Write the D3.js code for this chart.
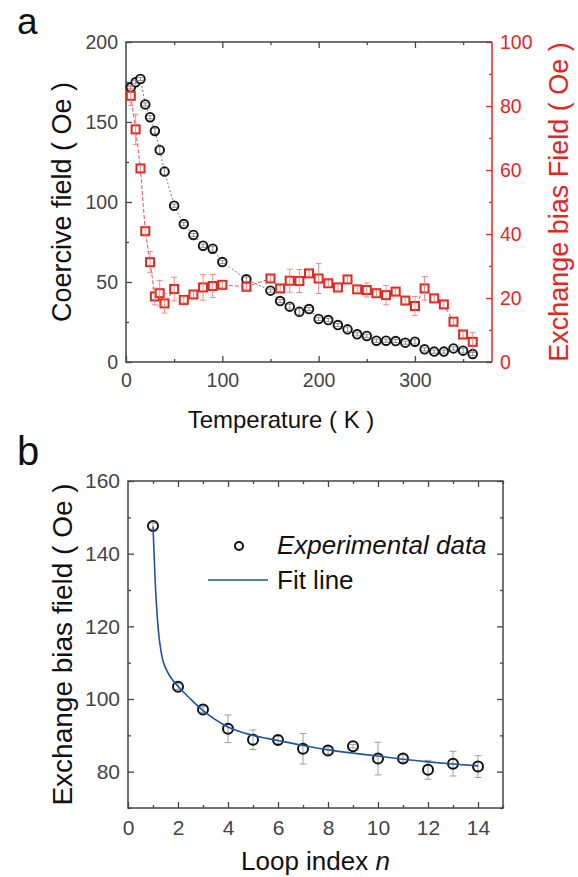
<!DOCTYPE html>
<html>
<head>
<meta charset="utf-8">
<script src="https://cdn.jsdelivr.net/npm/d3@7"></script>
<style>
body { margin: 0; background: #fff; }
text { font-family: "Liberation Sans", Arial, sans-serif; }
</style>
</head>
<body>
<svg id="fig" width="578" height="877"></svg>
<script>
// panel a data
var temps = [5, 10, 15, 20, 25, 30, 35, 40, 50, 60, 70, 80, 90, 100, 125,
  150, 160, 170, 180, 190, 200, 210, 220, 230, 240, 250, 260, 270, 280, 290,
  300, 310, 320, 330, 340, 350, 360];
var coercive = [171.7, 174.8, 176.9, 161, 153, 144.4, 132.5, 119, 97.7, 86.2, 79.4, 72.7, 70.8, 62.5, 51.7,
  44.6, 38.1, 34.6, 31.4, 33.1, 26.9, 26.2, 23.1, 20.4, 17.3, 16.3, 13.3, 13.3, 13.1, 12.1,
  12.7, 7.9, 6.5, 6.5, 8.5, 7.1, 5];
var coerciveErr = [1, 1, 1, 1, 1, 1.5, 2, 2, 1, 1, 1, 1, 1.5, 1, 1.5,
  1, 1, 1.5, 2, 1, 1, 1, 1, 1.5, 1, 1, 1, 1, 1, 1,
  1.5, 1, 1, 1, 1, 1.5, 1];
var exchange = [83.2, 72.7, 60.5, 40.9, 31.2, 20.5, 21.5, 18.3, 22.8, 19.4, 21.1, 23.3, 23.75, 24.1, 23.5,
  26.1, 23, 25.4, 25.3, 27.7, 26.1, 24.6, 23.3, 25.8, 22.7, 22.5, 21.5, 20.9, 22, 19.2,
  17.5, 23, 19.9, 18, 12.6, 8.6, 6.3];
var exchangeErr = [3, 4.7, 1, 1.5, 3.3, 2.6, 4, 3, 3.7, 1, 1, 4, 3.6, 1, 1,
  1, 1, 3.6, 3.6, 1, 4.7, 1, 1.5, 1, 1, 2.2, 1, 3, 1, 1,
  3, 3.7, 1, 1, 1, 1, 3];

// panel b data
var loops = [1, 2, 3, 4, 5, 6, 7, 8, 9, 10, 11, 12, 13, 14];
var bias = [147.6, 103.4, 97.1, 91.8, 88.8, 88.7, 86.3, 85.8, 87.0, 83.6, 83.6, 80.5, 82.2, 81.4];
var biasErr = [0.8, 0.8, 0.8, 3.8, 2.7, 1, 4.2, 1, 0.5, 4.5, 1, 2.6, 3.4, 3];
// fit curve
var fitN = [1, 1.09, 1.2, 1.33, 1.6, 1.8, 2, 2.5, 2.9, 4, 5, 6, 7, 8, 9, 10, 11, 12, 13, 14];
var fitH = [147.5, 132, 120, 112.7, 107.2, 105.1, 103.5, 100, 97.4, 92.3, 90, 88.6, 87.2, 86, 85.1, 84.3, 83.4, 82.7, 82.1, 81.6];

var axisColor = "#444";
var red = "#e3261f";
var blue = "#2152a6";

var svg = d3.select("#fig");

function styleAxis(g, color, fs) {
  g.select(".domain").remove();
  g.selectAll("line").attr("stroke", color).attr("stroke-width", 1.3);
  g.selectAll("text").attr("fill", color).style("font-size", fs + "px")
    .style("font-family", "'Liberation Sans', Arial, sans-serif");
}

function addAxis(axisFn, scale, major, minor, pos, color, labels, pad, fs) {
  var gMin = svg.append("g").attr("transform", pos)
    .call(axisFn(scale).tickValues(minor).tickSize(-3).tickFormat(""));
  styleAxis(gMin, color, fs);
  var ax = axisFn(scale).tickValues(major).tickSize(-6).tickPadding(pad || 8);
  if (!labels) ax.tickFormat("");
  var g = svg.append("g").attr("transform", pos).call(ax);
  styleAxis(g, color, fs);
}

function errBars(g, data, xf, yv, ev, sc, color, cap) {
  var eb = g.selectAll("g").data(data).enter().append("g");
  eb.append("line")
    .attr("x1", xf).attr("x2", xf)
    .attr("y1", function (d) { return sc(yv(d) - ev(d)); })
    .attr("y2", function (d) { return sc(yv(d) + ev(d)); });
  [1, -1].forEach(function (s) {
    eb.append("line")
      .attr("x1", function (d) { return xf(d) - cap; })
      .attr("x2", function (d) { return xf(d) + cap; })
      .attr("y1", function (d) { return sc(yv(d) + s * ev(d)); })
      .attr("y2", function (d) { return sc(yv(d) + s * ev(d)); });
  });
  eb.selectAll("line").attr("stroke", color).attr("stroke-width", 0.8);
}

// ---------- panel a ----------
var a = { l: 126, r: 492, t: 42, b: 362 };
var xa = d3.scaleLinear().domain([0, 380]).range([a.l, a.r]);
var yaL = d3.scaleLinear().domain([0, 200]).range([a.b, a.t]);
var yaR = d3.scaleLinear().domain([0, 100]).range([a.b, a.t]);

addAxis(d3.axisBottom, xa, d3.range(0, 381, 100), d3.range(50, 381, 100), "translate(0," + a.b + ")", axisColor, true, 11, 19.5);
addAxis(d3.axisTop, xa, d3.range(100, 381, 100), d3.range(50, 381, 100), "translate(0," + a.t + ")", axisColor, false, 8, 19.5);
addAxis(d3.axisLeft, yaL, d3.range(0, 201, 50), d3.range(25, 200, 50), "translate(" + a.l + ",0)", axisColor, true, 8, 19.5);
addAxis(d3.axisRight, yaR, d3.range(0, 101, 20), d3.range(10, 100, 20), "translate(" + a.r + ",0)", red, true, 8, 19.5);

svg.append("path").attr("d", "M" + a.r + "," + a.t + "H" + a.l + "V" + a.b + "H" + a.r)
  .attr("fill", "none").attr("stroke", axisColor).attr("stroke-width", 1.5);
svg.append("line").attr("x1", a.r).attr("x2", a.r).attr("y1", a.t).attr("y2", a.b)
  .attr("stroke", red).attr("stroke-width", 1.5);

var ptsA = temps.map(function (t, i) {
  return { t: t, c: coercive[i], ce: coerciveErr[i], e: exchange[i], ee: exchangeErr[i] };
});

svg.append("path").datum(ptsA)
  .attr("d", d3.line().x(function (d) { return xa(d.t); }).y(function (d) { return yaL(d.c); }))
  .attr("fill", "none").attr("stroke", "#555").attr("stroke-width", 0.8).attr("stroke-dasharray", "2,2");
svg.append("path").datum(ptsA)
  .attr("d", d3.line().x(function (d) { return xa(d.t); }).y(function (d) { return yaR(d.e); }))
  .attr("fill", "none").attr("stroke", red).attr("stroke-width", 0.8).attr("stroke-dasharray", "4,2");

svg.append("g").selectAll("circle").data(ptsA).enter().append("circle")
  .attr("cx", function (d) { return xa(d.t); })
  .attr("cy", function (d) { return yaL(d.c); })
  .attr("r", 4.3).attr("fill", "#fff").attr("stroke", "#111").attr("stroke-width", 1.9);

errBars(svg.append("g"), ptsA, function (d) { return xa(d.t); }, function (d) { return d.c; },
  function (d) { return d.ce; }, yaL, "#777", 3);

svg.append("g").selectAll("rect").data(ptsA).enter().append("rect")
  .attr("x", function (d) { return xa(d.t) - 4; })
  .attr("y", function (d) { return yaR(d.e) - 4; })
  .attr("width", 8).attr("height", 8)
  .attr("fill", "#fff").attr("stroke", red).attr("stroke-width", 2);

errBars(svg.append("g"), ptsA, function (d) { return xa(d.t); }, function (d) { return d.e; },
  function (d) { return d.ee; }, yaR, "#e9736c", 3);

svg.append("text").attr("x", 17).attr("y", 34).style("font-size", "37px").attr("fill", "#111").text("a");
svg.append("text").attr("transform", "translate(71," + (a.t + a.b) / 2 + ") rotate(-90)")
  .attr("text-anchor", "middle").style("font-size", "27px").attr("fill", "#111")
  .text("Coercive field ( Oe )");
svg.append("text").attr("transform", "translate(568," + (a.t + a.b) / 2 + ") rotate(-90)")
  .attr("text-anchor", "middle").style("font-size", "27px").attr("fill", red)
  .text("Exchange bias Field ( Oe )");
svg.append("text").attr("x", 281).attr("y", 428).attr("text-anchor", "middle")
  .style("font-size", "24px").attr("fill", "#111").text("Temperature ( K )");

// ---------- panel b ----------
var b = { l: 128, r: 503, t: 481, b: 808 };
var xb = d3.scaleLinear().domain([0, 15]).range([b.l, b.r]);
var yb = d3.scaleLinear().domain([70, 160]).range([b.b, b.t]);

addAxis(d3.axisBottom, xb, d3.range(0, 15, 2), d3.range(1, 16, 2), "translate(0," + b.b + ")", axisColor, true, 12, 21);
addAxis(d3.axisTop, xb, d3.range(2, 15, 2), d3.range(1, 16, 2), "translate(0," + b.t + ")", axisColor, false, 8, 21);
addAxis(d3.axisLeft, yb, d3.range(80, 161, 20), d3.range(70, 160, 20), "translate(" + b.l + ",0)", axisColor, true, 8, 21);
addAxis(d3.axisRight, yb, d3.range(80, 161, 20), d3.range(70, 160, 20), "translate(" + b.r + ",0)", axisColor, false, 8, 21);

svg.append("rect").attr("x", b.l).attr("y", b.t).attr("width", b.r - b.l).attr("height", b.b - b.t)
  .attr("fill", "none").attr("stroke", axisColor).attr("stroke-width", 1.5);

var ptsB = loops.map(function (n, i) { return { n: n, h: bias[i], e: biasErr[i] }; });
var fitPts = fitN.map(function (n, i) { return { n: n, h: fitH[i] }; });

errBars(svg.append("g"), ptsB, function (d) { return xb(d.n); }, function (d) { return d.h; },
  function (d) { return d.e; }, yb, "#888", 3.5);

svg.append("g").selectAll("circle").data(ptsB).enter().append("circle")
  .attr("cx", function (d) { return xb(d.n); })
  .attr("cy", function (d) { return yb(d.h); })
  .attr("r", 5).attr("fill", "none").attr("stroke", "#111").attr("stroke-width", 2);

svg.append("path").datum(fitPts)
  .attr("d", d3.line().curve(d3.curveMonotoneX)
    .x(function (d) { return xb(d.n); }).y(function (d) { return yb(d.h); }))
  .attr("fill", "none").attr("stroke", blue).attr("stroke-width", 1.6);

// legend
svg.append("circle").attr("cx", 239).attr("cy", 546).attr("r", 4)
  .attr("fill", "none").attr("stroke", "#111").attr("stroke-width", 2);
svg.append("text").attr("x", 277).attr("y", 554).style("font-size", "26px")
  .style("font-style", "italic").attr("fill", "#111").text("Experimental data");
svg.append("line").attr("x1", 208).attr("x2", 268).attr("y1", 580).attr("y2", 580)
  .attr("stroke", blue).attr("stroke-width", 1.6);
svg.append("text").attr("x", 277).attr("y", 589).style("font-size", "26px")
  .attr("fill", "#111").text("Fit line");

svg.append("text").attr("x", 17).attr("y", 465).style("font-size", "40px").attr("fill", "#111").text("b");
svg.append("text").attr("transform", "translate(72," + (b.t + b.b) / 2 + ") rotate(-90)")
  .attr("text-anchor", "middle").style("font-size", "28px").attr("fill", "#111")
  .text("Exchange bias field ( Oe )");
svg.append("text").attr("x", (b.l + b.r) / 2).attr("y", 870).attr("text-anchor", "middle")
  .style("font-size", "26px").attr("fill", "#111")
  .text("Loop index ").append("tspan").style("font-style", "italic").text("n");
</script>
</body>
</html>
